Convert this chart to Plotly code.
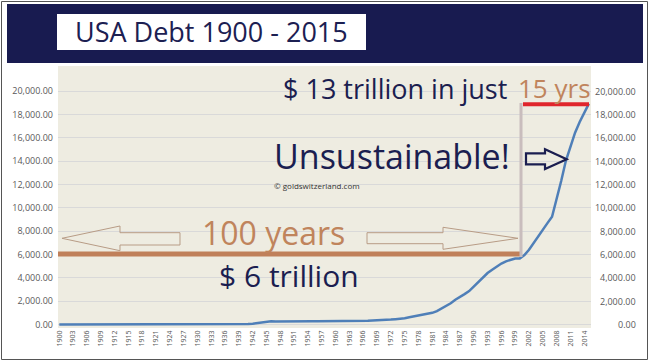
import plotly.graph_objects as go

# ---------------- data ----------------
years = list(range(1900, 2016))
debt_billions = [
    1.26, 1.22, 1.18, 1.16, 1.14, 1.13, 1.14, 1.15, 1.18, 1.15,            # 1900-1909
    1.15, 1.15, 1.19, 1.19, 1.19, 1.19, 1.23, 5.7, 14.6, 25.5,              # 1910-1919
    24.3, 24.0, 23.0, 22.3, 21.3, 20.5, 19.6, 18.5, 17.6, 16.9,             # 1920-1929
    16.2, 16.8, 19.5, 22.5, 27.1, 28.7, 33.8, 36.4, 37.2, 40.4,             # 1930-1939
    43.0, 49.0, 72.4, 136.7, 201.0, 258.7, 269.4, 258.3, 252.3, 252.8,      # 1940-1949
    257.4, 255.2, 259.1, 266.0, 270.8, 274.4, 272.7, 272.3, 276.3, 284.7,   # 1950-1959
    286.3, 289.0, 298.2, 305.9, 311.7, 317.3, 319.9, 326.2, 347.6, 353.7,   # 1960-1969
    370.9, 398.1, 427.3, 458.1, 475.1, 533.2, 620.4, 698.8, 771.5, 826.5,   # 1970-1979
    907.7, 997.9, 1142.0, 1377.2, 1572.3, 1823.1, 2125.3, 2340.0, 2602.3, 2857.4,  # 1980-1989
    3233.3, 3665.3, 4064.6, 4411.5, 4692.7, 4974.0, 5224.8, 5413.1, 5526.2, 5656.3,  # 1990-1999
    5662.0, 5943.0, 6405.0, 6998.0, 7596.0, 8170.0, 8680.0, 9229.0, 10700.0, 12311.0,  # 2000-2009
    14025.0, 15223.0, 16432.0, 17352.0, 18141.0, 18922.0,                   # 2010-2015
]
x_tick_years = list(range(1900, 2015, 3))
x_tick_labels = [str(y) for y in x_tick_years]
y_tick_values = list(range(0, 20001, 2000))
y_tick_labels = [f"{v:,.2f}" for v in y_tick_values]

title_text = "USA Debt 1900 - 2015"
FONT = "Open Sans"
NAVY = "#1b1e50"
BROWN = "#c0845c"
GREY_TXT = "#595959"

# ---------------- geometry helpers (pixel -> paper) ----------------
PL, PR, PT, PB = 58, 591, 66, 328
def fx(px):
    return (px - PL) / (PR - PL)
def fy(py):
    return (PB - py) / (PB - PT)
def path(points):
    pts = [f"{fx(x):.5f},{fy(y):.5f}" for x, y in points]
    return "M " + " L ".join(pts) + " Z"

fig = go.Figure()
fig.add_trace(go.Scatter(
    x=years, y=debt_billions, mode="lines",
    line=dict(color="#4f7fb8", width=2.5),
    hoverinfo="skip",
))

shapes = [
    # header band and title box
    dict(type="rect", xref="paper", yref="paper", x0=fx(7), x1=fx(643), y0=fy(63), y1=fy(4),
         fillcolor="#181b50", line=dict(width=0), layer="above"),
    dict(type="rect", xref="paper", yref="paper", x0=fx(57), x1=fx(366), y0=fy(50), y1=fy(14),
         fillcolor="white", line=dict(width=0), layer="above"),
    # outer frame
    dict(type="rect", xref="paper", yref="paper", x0=fx(1.5), x1=fx(647.5), y0=fy(359.5), y1=fy(1.5),
         line=dict(color="#555555", width=1), layer="above"),
    # brown "6 trillion" line
    dict(type="line", xref="paper", yref="paper", x0=fx(58), x1=fx(522), y0=fy(254), y1=fy(254),
         line=dict(color="#c0805a", width=5), layer="above"),
    # grey vertical marker
    dict(type="line", xref="paper", yref="paper", x0=fx(521), x1=fx(521), y0=fy(257), y1=fy(103),
         line=dict(color="#c9bdbd", width=3), layer="above"),
    # red top line
    dict(type="line", xref="paper", yref="paper", x0=fx(523), x1=fx(589), y0=fy(104.3), y1=fy(104.3),
         line=dict(color="#e0262c", width=4), layer="above"),
    # left hollow arrow
    dict(type="path", xref="paper", yref="paper",
         path=path([(62, 238.3), (120, 226), (120, 232.7), (180, 232.7), (180, 245), (120, 245), (120, 250.7)]),
         line=dict(color="#b89c86", width=1), fillcolor="rgba(0,0,0,0)", layer="above"),
    # right hollow arrow
    dict(type="path", xref="paper", yref="paper",
         path=path([(518, 238.3), (443, 227.3), (443, 232.7), (367, 232.7), (367, 243.7), (443, 243.7), (443, 249.3)]),
         line=dict(color="#b89c86", width=1), fillcolor="rgba(0,0,0,0)", layer="above"),
    # navy hollow arrow
    dict(type="path", xref="paper", yref="paper",
         path=path([(566.7, 159.3), (545, 149.3), (545, 153.3), (526, 153.3), (526, 164.3), (545, 164.3), (545, 169)]),
         line=dict(color=NAVY, width=2.2), fillcolor="rgba(0,0,0,0)", layer="above"),
]

annotations = [
    dict(text=title_text, xref="paper", yref="paper", x=fx(211), y=fy(32), xanchor="center", yanchor="middle",
         showarrow=False, font=dict(family=FONT, size=27, color="#1c2052")),
    dict(text="$ 13 trillion in just", xref="paper", yref="paper", x=fx(509), y=fy(88),
         xanchor="right", yanchor="middle", showarrow=False, font=dict(family=FONT, size=27, color=NAVY)),
    dict(text="15 yrs", xref="paper", yref="paper", x=fx(516), y=fy(88),
         xanchor="left", yanchor="middle", showarrow=False, font=dict(family=FONT, size=26, color=BROWN)),
    dict(text="Unsustainable!", xref="paper", yref="paper", x=fx(512), y=fy(156),
         xanchor="right", yanchor="middle", showarrow=False, font=dict(family=FONT, size=34, color=NAVY)),
    dict(text="© goldswitzerland.com", xref="paper", yref="paper", x=fx(317), y=fy(185),
         xanchor="center", yanchor="middle", showarrow=False, font=dict(family=FONT, size=8, color="#333333")),
    dict(text="100 years", xref="paper", yref="paper", x=fx(273), y=fy(232),
         xanchor="center", yanchor="middle", showarrow=False, font=dict(family=FONT, size=32, color=BROWN)),
    dict(text="$ 6 trillion", xref="paper", yref="paper", x=fx(289), y=fy(275),
         xanchor="center", yanchor="middle", showarrow=False, font=dict(family=FONT, size=30, color=NAVY)),
]
# right-hand axis labels (right aligned)
for v, lab in zip(y_tick_values, y_tick_labels):
    annotations.append(dict(text=lab, xref="paper", yref="y", x=fx(638), y=v, xanchor="right",
                            yanchor="middle", showarrow=False,
                            font=dict(family=FONT, size=9, color=GREY_TXT)))

fig.update_layout(
    width=650, height=362,
    margin=dict(l=PL, r=650 - PR, t=PT, b=362 - PB, autoexpand=False),
    paper_bgcolor="white", plot_bgcolor="#eeece1",
    showlegend=False,
    xaxis=dict(range=[1899.72, 2015.46], tickmode="array", tickvals=x_tick_years, ticktext=x_tick_labels,
               tickangle=-90, tickfont=dict(family=FONT, size=7, color=GREY_TXT),
               showgrid=False, zeroline=False, showline=False, ticks=""),
    yaxis=dict(range=[-300, 22141], tickmode="array", tickvals=y_tick_values, ticktext=y_tick_labels,
               tickfont=dict(family=FONT, size=9, color=GREY_TXT), ticklabelstandoff=4,
               showgrid=True, gridcolor="#d9d9d9", gridwidth=1, zeroline=False, showline=False, ticks=""),
    shapes=shapes, annotations=annotations,
)

fig.write_html("out.html", config={"displayModeBar": False},
               post_script="document.body.style.margin='0';document.body.style.padding='0';document.body.style.overflow='hidden';")
